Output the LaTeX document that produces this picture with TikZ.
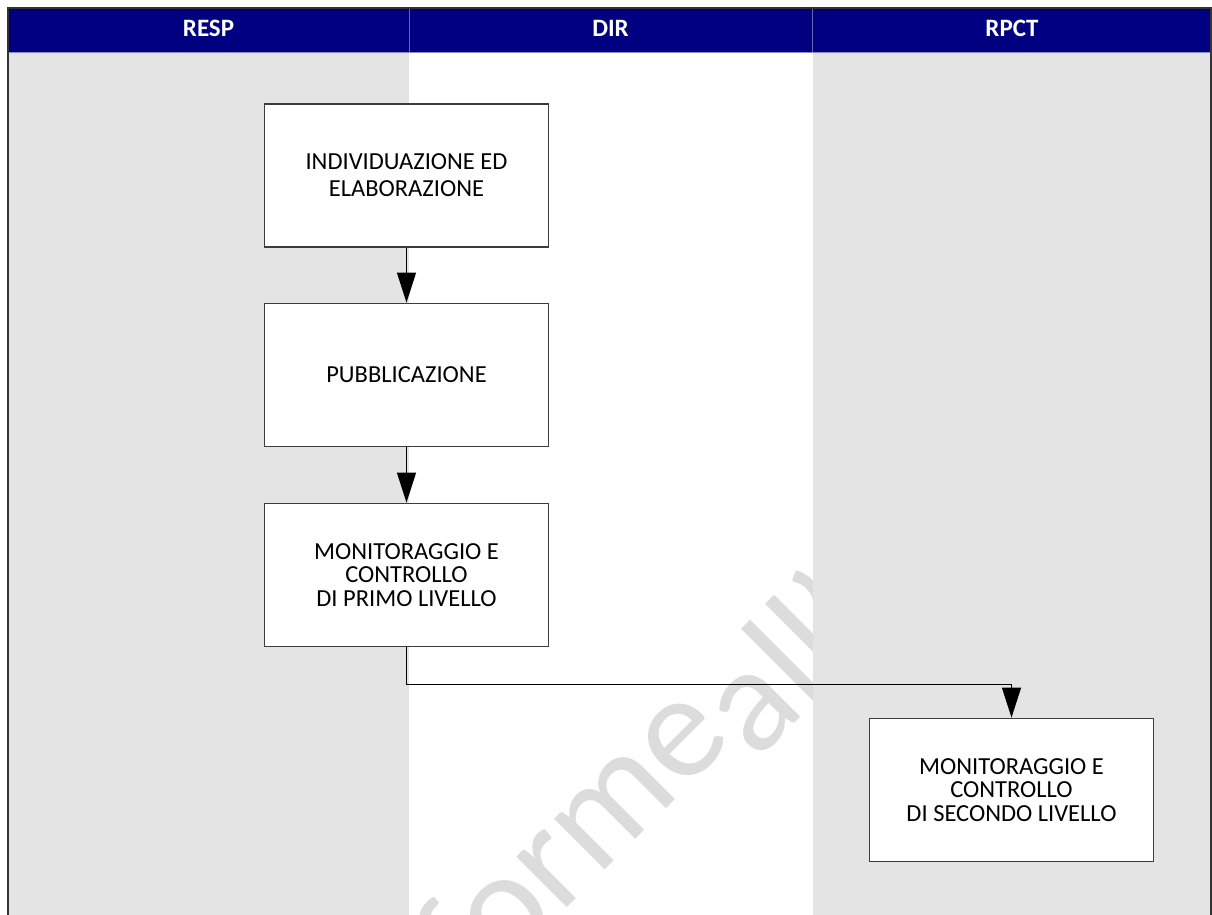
\documentclass[tikz,border=0pt]{standalone}
\usepackage{fontspec}
\setmainfont{Carlito}
\usetikzlibrary{arrows.meta}
\definecolor{navy}{HTML}{000080}
\definecolor{lanegray}{HTML}{E4E4E4}
\definecolor{wmark}{HTML}{DCDCDC}
\definecolor{boxline}{HTML}{3C3C3C}
\tikzset{
  procbox/.style={draw=boxline, line width=1.8pt, fill=white, minimum width=284pt, minimum height=143pt, inner sep=0pt, align=center, font=\fontsize{24.5}{23.5}\selectfont},
  hdr/.style={text=white, anchor=base, font=\bfseries\fontsize{25}{25}\selectfont},
  flow/.style={draw=black, line width=1.3pt, -{Triangle[length=30pt,width=19pt]}},
  wmtext/.style={rotate=45, text=wmark, inner sep=0pt, font=\fontsize{150}{150}\selectfont}
}
\begin{document}
\begin{tikzpicture}[x=1pt,y=-1pt]
\useasboundingbox (0,0) rectangle (1212,914);
\fill[white] (0,0) rectangle (1212,914);
% watermark (visible only in the white lane)
\begin{scope}
\clip (409,52) rectangle (813,914);
\node[wmtext, anchor=base east] (wm1) at (735,740) {conforme};
\path (wm1.base east) ++(45:30) node[wmtext, anchor=base west] (wm2) {all'};
\end{scope}
% lanes
\fill[lanegray] (8,52) rectangle (409,920);
\fill[lanegray] (813,52) rectangle (1212,920);
% header
\fill[navy] (8,8) rectangle (1212,52);
\draw[color=navy!60!white, line width=0.8pt] (409,8) -- (409,52);
\draw[color=navy!60!white, line width=0.8pt] (812,8) -- (812,52);
\draw[color=navy!45!white, line width=0.8pt] (8,52) -- (1212,52);
\node[hdr] (hresp) at (208.5,36) {RESP};
\node[hdr] (hdir) at (610.5,36) {DIR};
\node[hdr] (hrpct) at (1012,36) {RPCT};
% frame
\draw[color=black!80, line width=1.5pt] (8,920) -- (8,8) -- (1211,8) -- (1211,920);
% boxes
\node[procbox] (b1) at (406.5,175.5) {INDIVIDUAZIONE ED\\[3.5pt]ELABORAZIONE};
\node[procbox] (b2) at (406.5,375) {PUBBLICAZIONE};
\node[procbox] (b3) at (406.5,575) {MONITORAGGIO E\\CONTROLLO\\DI PRIMO LIVELLO};
\node[procbox] (b4) at (1011.5,790) {MONITORAGGIO E\\CONTROLLO\\DI SECONDO LIVELLO};
% connectors
\draw[flow] (b1.south) -- (b2.north);
\draw[flow] (b2.south) -- (b3.north);
\draw[flow] (b3.south) -- ++(0,37) -| (b4.north);
\end{tikzpicture}
\end{document}
